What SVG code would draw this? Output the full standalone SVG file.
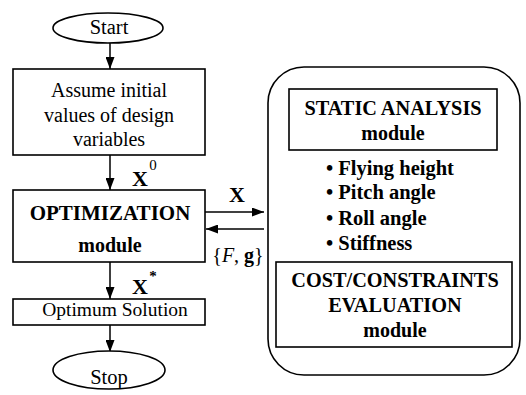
<svg xmlns="http://www.w3.org/2000/svg" width="526" height="395" viewBox="0 0 526 395">
<defs>
<marker id="ah" viewBox="0 0 10 10" refX="10" refY="5" markerWidth="12" markerHeight="9" markerUnits="userSpaceOnUse" orient="auto" preserveAspectRatio="none">
<path d="M0,0 L10,5 L0,10 z" fill="#000"/>
</marker>
<style>
.s{fill:#fff;stroke:#000;stroke-width:1.6}
.l{fill:none;stroke:#000;stroke-width:1.5}
text{font-family:"Liberation Serif","DejaVu Serif",serif;fill:#000}
.t{text-anchor:middle}
.r{font-size:20.5px}
.b{font-weight:bold}
.bl{font-weight:bold;font-size:20.5px}
</style>
</defs>
<rect width="526" height="395" fill="#fff"/>
<g id="connectors">
<line class="l" x1="110" y1="43" x2="110" y2="69" marker-end="url(#ah)"/>
<line class="l" x1="110" y1="155" x2="110" y2="190" marker-end="url(#ah)"/>
<line class="l" x1="205" y1="212" x2="264" y2="212" marker-end="url(#ah)"/>
<line class="l" x1="264" y1="229" x2="206" y2="229" marker-end="url(#ah)"/>
<line class="l" x1="110" y1="262" x2="110" y2="299" marker-end="url(#ah)"/>
<line class="l" x1="110" y1="325" x2="110" y2="352" marker-end="url(#ah)"/>
<line class="l" x1="317" y1="150" x2="317" y2="262" marker-end="url(#ah)"/>
<text class="t b" x="140" y="186" font-size="22">X</text>
<text class="t" x="153" y="170" font-size="15">0</text>
<text class="t b" x="237" y="202" font-size="22">X</text>
<text class="t" x="238" y="262" font-size="20">{<tspan font-style="italic">F</tspan>, <tspan font-weight="bold">g</tspan>}</text>
<text class="t b" x="140" y="294" font-size="22">X</text>
<text class="t b" x="153" y="281" font-size="15">*</text>
</g>
<g id="start">
<ellipse class="s" cx="108" cy="28" rx="55" ry="15"/>
<text class="t r" x="109" y="34">Start</text>
</g>
<g id="assume">
<rect class="s" x="13" y="69" width="192" height="86"/>
<text class="t" x="109" y="97" font-size="20">Assume initial</text>
<text class="t" x="109" y="122" font-size="20">values of design</text>
<text class="t" x="109" y="146" font-size="20">variables</text>
</g>
<g id="optimization">
<rect class="s" x="13" y="190" width="192" height="72"/>
<text class="t b" x="110" y="220" font-size="21">OPTIMIZATION</text>
<text class="t b" x="110" y="252" font-size="20">module</text>
</g>
<g id="optimum">
<rect class="s" x="13" y="299" width="192" height="26"/>
<text class="t" x="115" y="316" font-size="19.5">Optimum Solution</text>
</g>
<g id="stop">
<ellipse class="s" cx="109" cy="370" rx="56" ry="19"/>
<text class="t r" x="109" y="384">Stop</text>
</g>
<g id="analysis-group">
<rect class="s" x="268" y="67" width="252" height="308" rx="36" ry="36"/>
</g>
<g id="static">
<rect class="s" x="289" y="89" width="208" height="61"/>
<text class="t b" x="393" y="115" font-size="20.3">STATIC ANALYSIS</text>
<text class="t b" x="393" y="140" font-size="20">module</text>
</g>
<g id="outputs">
<text class="bl" x="326" y="175">• Flying height</text>
<text class="bl" x="326" y="199">• Pitch angle</text>
<text class="bl" x="326" y="225">• Roll angle</text>
<text class="bl" x="326" y="250">• Stiffness</text>
</g>
<g id="cost">
<rect class="s" x="276" y="262" width="236" height="85"/>
<text class="t b" x="395" y="287" font-size="20.3">COST/CONSTRAINTS</text>
<text class="t b" x="395" y="312" font-size="20.3">EVALUATION</text>
<text class="t b" x="395" y="337" font-size="20">module</text>
</g>
</svg>
